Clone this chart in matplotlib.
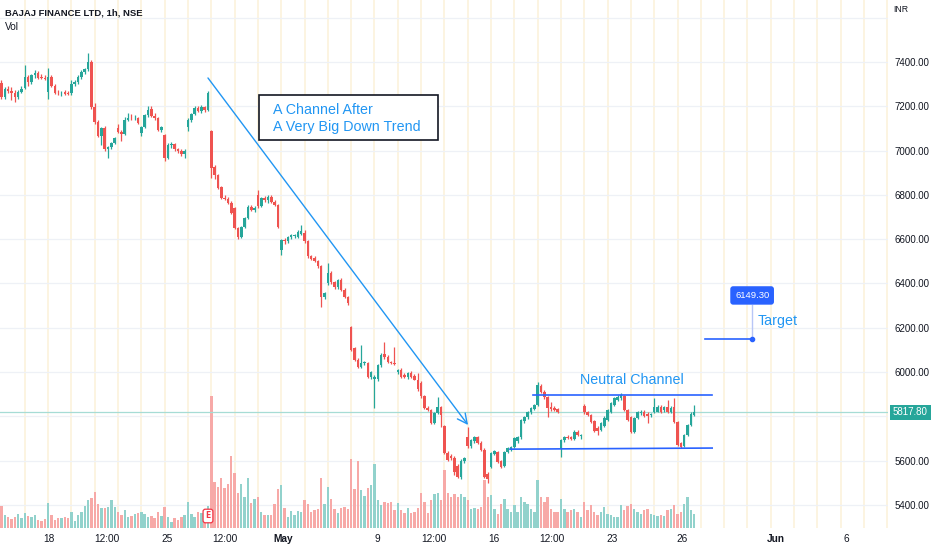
import matplotlib
matplotlib.use('Agg')
import matplotlib.pyplot as plt
import matplotlib.transforms as mtransforms
from matplotlib.patches import Rectangle
import numpy as np

FONT = ['Liberation Sans Narrow', 'Liberation Sans', 'DejaVu Sans']
plt.rcParams['font.family'] = FONT

# ---------------- data (1h candles, BAJAJ FINANCE, NSE) ----------------
opens = [
    7305, 7240, 7278, 7270, 7262, 7240, 7265,
    7282, 7332, 7310, 7340, 7352, 7332, 7328,
    7265, 7332, 7290, 7262, 7258, 7264, 7258,
    7258, 7300, 7310, 7332, 7355, 7368, 7398,
    7195, 7130, 7068, 7100, 7005, 7015, 7035,
    7100, 7085, 7075, 7140, 7148, 7145, 7148,
    7080, 7105, 7160, 7188, 7155, 7145, 7095,
    7070, 6965, 7025, 7030, 7005, 7000, 6985,
    7105, 7140, 7165, 7192, 7180, 7198, 7182,
    7090, 6925, 6890, 6835, 6788, 6782, 6765,
    6740, 6650, 6612, 6655, 6695, 6745, 6732,
    6800, 6750, 6786, 6775, 6792, 6770, 6755,
    6551, 6597, 6590, 6608, 6615, 6612, 6625,
    6628, 6590, 6522, 6515, 6500, 6478, 6340,
    6402, 6447, 6405, 6382, 6415, 6372, 6340,
    6205, 6110, 6055, 6025, 6040, 6040, 5980,
    5970, 5968, 6030, 6080, 6068, 6045, 6042,
    6000, 6010, 5985, 5978, 5995, 5982, 5966,
    5950, 5890, 5840, 5830, 5772, 5815, 5843,
    5755, 5635, 5620, 5612, 5575, 5525, 5598,
    5708, 5665, 5690, 5705, 5682, 5650, 5540,
    5572, 5632, 5640, 5600, 5575, 5640, 5652,
    5662, 5690, 5707, 5778, 5795, 5818, 5832,
    5851, 5935, 5912, 5888, 5842, 5838, 5832,
    5657, 5693, 5705, 5707, 5700, 5730, 5712,
    5845, 5820, 5806, 5778, 5748, 5738, 5755,
    5785, 5822, 5852, 5874, 5882, 5890, 5830,
    5795, 5730, 5793, 5815, 5822, 5810, 5805,
    5820, 5822, 5843, 5828, 5843, 5822,
    5843, 5775, 5678, 5668, 5716, 5761, 5806,
]
highs = [
    7320, 7285, 7290, 7285, 7275, 7272, 7290,
    7386, 7340, 7345, 7362, 7360, 7345, 7340,
    7373, 7340, 7300, 7272, 7270, 7272, 7268,
    7320, 7318, 7340, 7362, 7375, 7440, 7410,
    7215, 7140, 7105, 7110, 7020, 7040, 7060,
    7120, 7095, 7150, 7170, 7165, 7160, 7150,
    7110, 7165, 7200, 7200, 7170, 7150, 7110,
    7075, 7035, 7040, 7035, 7012, 7005, 7005,
    7145, 7170, 7200, 7200, 7205, 7200, 7270,
    7095, 6935, 6895, 6840, 6800, 6790, 6772,
    6745, 6655, 6660, 6700, 6755, 6755, 6748,
    6822, 6792, 6795, 6800, 6800, 6778, 6760,
    6600, 6605, 6615, 6622, 6625, 6640, 6665,
    6640, 6595, 6530, 6522, 6505, 6485, 6362,
    6492, 6455, 6410, 6420, 6425, 6378, 6345,
    6210, 6115, 6062, 6122, 6050, 6045, 6005,
    5985, 6035, 6085, 6136, 6075, 6052, 6112,
    6015, 6020, 5995, 6000, 6005, 5990, 5996,
    5958, 5895, 5848, 5835, 5818, 5888, 5848,
    5760, 5642, 5630, 5620, 5585, 5608, 5615,
    5752, 5700, 5712, 5712, 5690, 5655, 5550,
    5640, 5648, 5645, 5605, 5645, 5662, 5668,
    5708, 5712, 5790, 5800, 5825, 5842, 5856,
    5955, 5945, 5918, 5892, 5865, 5845, 5838,
    5700, 5712, 5715, 5712, 5738, 5740, 5720,
    5855, 5825, 5812, 5785, 5755, 5775, 5800,
    5835, 5865, 5888, 5895, 5906, 5898, 5835,
    5800, 5798, 5825, 5828, 5830, 5818, 5815,
    5883, 5850, 5850, 5848, 5874, 5848,
    5883, 5780, 5685, 5720, 5765, 5820, 5852,
]
lows = [
    7235, 7235, 7262, 7230, 7218, 7235, 7258,
    7278, 7290, 7300, 7330, 7325, 7322, 7320,
    7233, 7285, 7255, 7250, 7248, 7250, 7250,
    7250, 7290, 7300, 7325, 7345, 7360, 7190,
    7120, 7060, 7025, 7000, 6965, 7005, 7030,
    7080, 7045, 7070, 7135, 7138, 7140, 7120,
    7065, 7100, 7150, 7150, 7140, 7090, 7085,
    6955, 6960, 7010, 7000, 6990, 6975, 6965,
    7090, 7130, 7160, 7175, 7170, 7175, 7178,
    6875, 6870, 6825, 6780, 6775, 6760, 6715,
    6645, 6600, 6605, 6650, 6690, 6728, 6725,
    6740, 6745, 6770, 6765, 6765, 6750, 6650,
    6528, 6580, 6585, 6600, 6605, 6605, 6620,
    6585, 6515, 6505, 6495, 6470, 6295, 6330,
    6395, 6398, 6375, 6375, 6365, 6335, 6305,
    6095, 6050, 6020, 6018, 6030, 5975, 5970,
    5838, 5960, 6025, 6060, 6040, 6035, 6032,
    5990, 5975, 5972, 5970, 5975, 5962, 5915,
    5885, 5835, 5825, 5765, 5765, 5810, 5752,
    5630, 5598, 5605, 5535, 5520, 5515, 5590,
    5655, 5655, 5680, 5675, 5645, 5520, 5498,
    5565, 5625, 5588, 5565, 5570, 5635, 5645,
    5658, 5680, 5700, 5770, 5790, 5812, 5828,
    5845, 5905, 5880, 5797, 5825, 5825, 5815,
    5615, 5685, 5698, 5695, 5695, 5712, 5700,
    5812, 5800, 5770, 5728, 5715, 5732, 5750,
    5780, 5815, 5848, 5868, 5875, 5825, 5780,
    5725, 5725, 5788, 5808, 5795, 5770, 5795,
    5815, 5818, 5815, 5822, 5815, 5815,
    5770, 5665, 5655, 5662, 5710, 5755, 5800,
]
closes = [
    7240, 7278, 7270, 7262, 7240, 7265, 7280,
    7332, 7310, 7340, 7352, 7330, 7326, 7325,
    7332, 7290, 7262, 7258, 7262, 7255, 7255,
    7300, 7310, 7332, 7355, 7368, 7398, 7195,
    7130, 7068, 7100, 7005, 7015, 7035, 7055,
    7085, 7075, 7140, 7148, 7145, 7148, 7125,
    7105, 7160, 7185, 7155, 7145, 7095, 7105,
    6965, 7025, 7030, 7005, 6998, 6985, 7000,
    7140, 7165, 7192, 7180, 7198, 7182, 7262,
    6920, 6890, 6832, 6788, 6782, 6765, 6720,
    6650, 6612, 6655, 6695, 6745, 6732, 6742,
    6750, 6786, 6778, 6792, 6770, 6755, 6655,
    6597, 6590, 6610, 6618, 6620, 6632, 6638,
    6590, 6522, 6512, 6500, 6478, 6340, 6357,
    6447, 6405, 6382, 6415, 6372, 6340, 6312,
    6100, 6055, 6025, 6040, 6045, 5980, 6000,
    5980, 6030, 6077, 6068, 6045, 6040, 6038,
    6010, 5980, 5978, 5995, 5980, 5966, 5922,
    5890, 5840, 5830, 5772, 5815, 5843, 5806,
    5635, 5605, 5610, 5550, 5528, 5600, 5610,
    5665, 5692, 5705, 5682, 5650, 5528, 5515,
    5635, 5645, 5595, 5572, 5640, 5658, 5662,
    5702, 5705, 5783, 5797, 5820, 5838, 5851,
    5942, 5910, 5888, 5840, 5835, 5830, 5822,
    5693, 5707, 5702, 5700, 5730, 5718, 5715,
    5818, 5806, 5775, 5732, 5732, 5770, 5793,
    5830, 5860, 5883, 5888, 5895, 5830, 5785,
    5730, 5793, 5820, 5822, 5800, 5800, 5808,
    5843, 5843, 5822, 5843, 5822, 5840,
    5775, 5670, 5662, 5716, 5761, 5810, 5817.8,
]
volumes = [
    220, 130, 110, 90, 110, 140, 100, 150, 120, 110,
    130, 80, 70, 90, 250, 130, 80, 100, 100, 110,
    100, 160, 70, 130, 160, 220, 280, 300, 360, 240,
    200, 200, 210, 280, 210, 160, 130, 180, 110, 120,
    140, 150, 160, 140, 110, 120, 100, 160, 120, 210,
    110, 60, 100, 80, 110, 130, 260, 140, 110, 160,
    150, 160, 220,
    1320, 460, 410, 500, 400, 440, 720, 550, 350, 440,
    310, 500, 250, 290, 310, 160, 130, 130, 130, 240,
    390, 430, 200, 110, 170, 130, 170, 160, 280, 240,
    160, 180, 190, 500, 240, 410, 290, 190, 150, 200,
    210, 190,
    690, 390, 670, 380, 320, 400, 430, 640, 280, 230,
    260, 250, 260, 180, 250, 180, 150, 200, 150, 160,
    200, 350, 260, 150, 280, 340, 350, 280, 580, 350,
    310,
    340, 310, 340, 310, 280, 190, 200, 190, 210,
    480, 310, 330, 190, 140, 240, 290, 190, 160, 230,
    160, 310, 260, 240, 190, 160, 480, 310, 260, 310,
    190, 160, 160, 290, 190, 160, 180, 190, 160, 110,
    260, 180, 230, 160, 130, 160, 210, 140, 130, 110,
    110, 230, 180, 220, 240, 190, 160, 140, 180, 190,
    140, 130, 120, 130, 120, 180, 190, 230, 140, 160,
    240, 310, 180, 140,
]
grid_prices = [5400, 5600, 5800, 6000, 6200, 6400, 6600, 6800, 7000, 7200, 7400, 7600]
price_ticks = [5400, 5600, 6000, 6200, 6400, 6600, 6800, 7000, 7200, 7400]
x_tick_pos = [14.3, 31.6, 49.6, 67.1, 84.5, 112.7, 129.8, 147.8, 165.3, 183.3, 204.4, 232.5, 253.6]
x_tick_labels = ['18', '12:00', '25', '12:00', 'May', '9', '12:00', '16', '12:00', '23', '26', 'Jun', '6']
last_price = 5817.80
target_price = 6149.30

# ---------------- figure ----------------
UP, DOWN = '#26a69a', '#ef5350'
UPV, DOWNV = '#92d2cc', '#f7a9a7'
BLUE_T = '#2196f3'
BLUE_L = '#2962ff'

fig = plt.figure(figsize=(9.32, 5.5), dpi=100, facecolor='white')
rect = [0, 22 / 550, 888 / 932, 528 / 550]
ax = fig.add_axes(rect)
ax2 = ax.twinx()
ax.set_zorder(2)
ax2.set_zorder(1)
ax.patch.set_visible(False)
ax.yaxis.tick_right()

o = np.array(opens, float)
h = np.array(highs, float)
l = np.array(lows, float)
c = np.array(closes, float)
v = np.array(volumes, float)
idx = np.arange(len(c))
up = c >= o
cols = np.where(up, UP, DOWN)
vcols = np.where(up, UPV, DOWNV)

# grid (drawn on the lower volume axes so that it stays behind the bars)
for k in range(1, 39):
    ax2.axvline(7 * k, color='#fcf3de', lw=1.3, zorder=0)
gt = mtransforms.blended_transform_factory(ax2.transAxes, ax.transData)
for p in grid_prices:
    ax2.plot([0, 1], [p, p], transform=gt, color='#eef1f6', lw=0.9, zorder=0)

# volume
ax2.bar(idx, v, width=0.72, color=vcols, linewidth=0, zorder=1)
ax2.set_ylim(0, 5280)
ax2.set_yticks([])

# candles
ax.vlines(idx, l, h, colors=cols, lw=0.9, zorder=3)
ax.bar(idx, np.maximum(np.abs(c - o), 3.5), bottom=np.minimum(o, c),
       width=0.76, color=cols, linewidth=0, zorder=4)

ax.set_xlim(-0.45, 266.2)
ax.set_ylim(5296, 7680)

for a in (ax, ax2):
    for s in a.spines.values():
        s.set_visible(False)

ax.set_yticks(price_ticks)
ax.set_yticklabels([f'{p:.2f}' for p in price_ticks])
ax.tick_params(axis='y', length=0, pad=5, labelsize=7, colors='#131722')
ax.set_xticks(x_tick_pos)
ax.set_xticklabels(x_tick_labels)
ax.tick_params(axis='x', length=0, pad=4, labelsize=7.3, colors='#131722')
for t in ax.get_xticklabels():
    if t.get_text() in ('May', 'Jun'):
        t.set_fontweight('bold')

# current price line and tag
ax.axhline(last_price, color='#a6dcd5', lw=0.9, zorder=2)
bt = mtransforms.blended_transform_factory(ax.transAxes, ax.transData)
ax.text(1.0 + 5 / 888, last_price, f'{last_price:.2f}', transform=bt, ha='left', va='center',
        color='white', fontsize=7, clip_on=False,
        bbox=dict(boxstyle='square,pad=0.3', fc=UP, ec='none'))

# down trend arrow
ax.annotate('', xy=(140.1, 5761), xytext=(62.0, 7328),
            arrowprops=dict(arrowstyle='->,head_length=0.7,head_width=0.35', color=BLUE_T,
                            lw=1.0, shrinkA=0, shrinkB=0), zorder=5)

# text box
ax.add_patch(Rectangle((77.3, 7048), 131.1 - 77.3, 7251 - 7048, facecolor='white',
                       edgecolor='#131722', lw=1.2, zorder=6))
ax.text(81.5, 7183, 'A Channel After', color=BLUE_T, fontsize=10.3, va='center', ha='left', zorder=7)
ax.text(81.5, 7107, 'A Very Big Down Trend', color=BLUE_T, fontsize=10.3, va='center', ha='left', zorder=7)

# neutral channel
ax.plot([159.6, 213.4], [5896, 5896], color=BLUE_L, lw=1.2, zorder=5)
ax.plot([152.7, 213.4], [5652, 5657], color=BLUE_L, lw=1.2, zorder=5)
ax.text(189.3, 5964, 'Neutral Channel', color=BLUE_T, fontsize=10.3, ha='center', va='center', zorder=7)

# target
ax.plot([211.3, 225.4], [target_price, target_price], color=BLUE_L, lw=1.2, zorder=5)
ax.plot([225.4, 225.4], [target_price, 6303], color='#b8c6f6', lw=1.0, zorder=5)
ax.plot([225.4], [target_price], marker='o', ms=3, color=BLUE_L, zorder=6)
ax.text(225.4, 6346, f'{target_price:.2f}', color='white', fontsize=6.8, ha='center', va='center',
        zorder=7, bbox=dict(boxstyle='round,pad=0.5,rounding_size=0.3', fc=BLUE_L, ec='none'))
ax.text(227.2, 6231, 'Target', color=BLUE_T, fontsize=10.3, ha='left', va='center', zorder=7)

# earnings marker
ax2.text(62, 120, 'E', color='#f23645', fontsize=5.5, fontweight='bold', ha='center', va='center',
         family=['DejaVu Sans'], zorder=5,
         bbox=dict(boxstyle='round,pad=0.3', fc='white', ec='#f23645', lw=0.9))

# header texts
fig.text(5 / 932, 1 - 13 / 550, 'BAJAJ FINANCE LTD, 1h, NSE', fontsize=6.8, fontweight='bold',
         color='#131722', ha='left', va='center')
fig.text(5 / 932, 1 - 27 / 550, 'Vol', fontsize=7.3, color='#131722', ha='left', va='center')
fig.text(893 / 932, 1 - 10 / 550, 'INR', fontsize=6.3, color='#131722', ha='left', va='center')

fig.savefig('out.png', dpi=100, facecolor='white')
